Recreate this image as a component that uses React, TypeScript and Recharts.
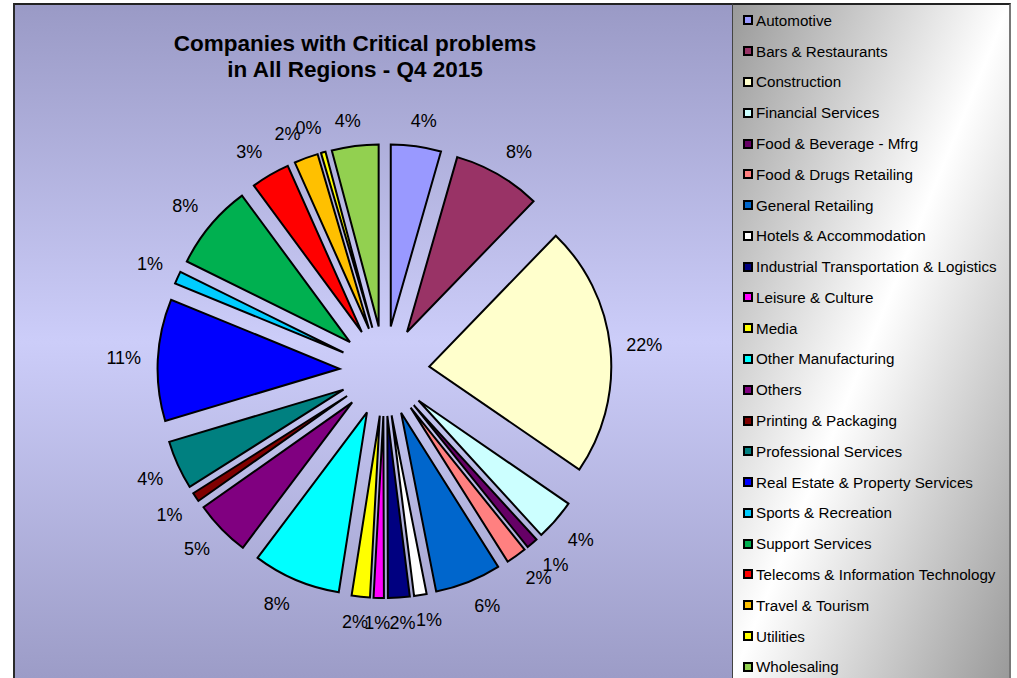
import React from 'react';
import { PieChart, Pie, Cell, Sector, Legend } from 'recharts';

const categories = [
  'Automotive',
  'Bars & Restaurants',
  'Construction',
  'Financial Services',
  'Food & Beverage - Mfrg',
  'Food & Drugs Retailing',
  'General Retailing',
  'Hotels & Accommodation',
  'Industrial Transportation & Logistics',
  'Leisure & Culture',
  'Media',
  'Other Manufacturing',
  'Others',
  'Printing & Packaging',
  'Professional Services',
  'Real Estate & Property Services',
  'Sports & Recreation',
  'Support Services',
  'Telecoms & Information Technology',
  'Travel & Tourism',
  'Utilities',
  'Wholesaling',
];

const values = [
  4.4, 7.7, 22.1, 3.6, 1.0, 1.8, 5.8, 1.1, 1.9, 0.9, 1.6,
  7.7, 4.9, 0.8, 4.3, 10.7, 1.1, 7.5, 3.4, 2.1, 0.4, 4.1,
];

const colors = [
  '#9999FF', '#993366', '#FFFFCC', '#CCFFFF', '#660066', '#FF8080',
  '#0066CC', '#FFFFFF', '#000080', '#FF00FF', '#FFFF00', '#00FFFF',
  '#800080', '#800000', '#008080', '#0000FF', '#00CCFF', '#00B050',
  '#FF0000', '#FFC000', '#FFFF00', '#92D050',
];

const titleLines = ['Companies with Critical problems', 'in All Regions - Q4 2015'];

const data = categories.map((name, i) => ({ name, value: values[i] }));

const FONT = '"Liberation Sans", Arial, Helvetica, sans-serif';
const RAD = Math.PI / 180;
const EXPLODE = 45;
const LABEL_R = 243;

function ExplodedSector(props: any) {
  const { cx, cy, midAngle } = props;
  const dx = EXPLODE * Math.cos(-midAngle * RAD);
  const dy = EXPLODE * Math.sin(-midAngle * RAD);
  return <Sector {...props} cx={cx + dx} cy={cy + dy} />;
}

const clamp = (v: number) => Math.max(-1, Math.min(1, v));

function renderLabel(props: any) {
  const { cx, cy, midAngle, percent, index } = props;
  const ux = Math.cos(-midAngle * RAD);
  const uy = Math.sin(-midAngle * RAD);
  const text = `${Math.round(percent * 100)}%`;
  const hw = text.length >= 3 ? 18 : 13;
  const hh = 9;
  const x = cx + LABEL_R * ux + hw * clamp(3 * ux);
  const y = cy + LABEL_R * uy + hh * clamp(2 * uy);
  return (
    <text
      key={`lbl-${index}`}
      x={x}
      y={y}
      textAnchor="middle"
      dominantBaseline="central"
      fontSize={18}
      fontFamily={FONT}
      fill="#000"
    >
      {text}
    </text>
  );
}

function renderLegend() {
  return (
    <div style={{ paddingTop: 2 }}>
      {categories.map((name, i) => (
        <div
          key={name}
          style={{
            height: 30.79,
            display: 'flex',
            alignItems: 'center',
            fontFamily: FONT,
            fontSize: 15.2,
            color: '#000',
            whiteSpace: 'nowrap',
          }}
        >
          <span
            style={{
              display: 'inline-block',
              width: 6,
              height: 6,
              border: '2px solid #000',
              background: colors[i],
              marginLeft: 11,
              marginRight: 3,
            }}
          />
          <span>{name}</span>
        </div>
      ))}
    </div>
  );
}

export default function App() {
  return (
    <div style={{ position: 'absolute', left: 0, top: 0, width: 1017, height: 678, overflow: 'hidden' }}>
      <div
        style={{
          position: 'absolute',
          left: 13,
          top: 3,
          width: 720,
          height: 675,
          boxSizing: 'border-box',
          borderLeft: '2px solid #2a2a2a',
          borderTop: '2px solid #222',
          background: 'linear-gradient(to bottom, #9a9ac6 0%, #cccdf9 50%, #9c9cc7 100%)',
        }}
      />
      <div
        style={{
          position: 'absolute',
          left: 732,
          top: 3,
          width: 279,
          height: 675,
          boxSizing: 'border-box',
          borderLeft: '1px solid #444',
          borderTop: '2px solid #222',
          borderRight: '2px solid #777',
          background: 'linear-gradient(to bottom right, #9a9a9a 0%, #ffffff 50%, #9a9a9a 100%)',
        }}
      />
      <div
        style={{
          position: 'absolute',
          left: 130,
          top: 31,
          width: 450,
          textAlign: 'center',
          fontFamily: FONT,
          fontWeight: 'bold',
          fontSize: 22.5,
          lineHeight: '26px',
          color: '#000',
        }}
      >
        {titleLines.map((t) => (
          <div key={t}>{t}</div>
        ))}
      </div>
      <div style={{ position: 'absolute', left: 0, top: 0 }}>
        <PieChart width={1017} height={678} margin={{ top: 0, right: 0, bottom: 0, left: 0 }}>
          <Pie
            data={data}
            dataKey="value"
            nameKey="name"
            cx={384.5}
            cy={371}
            innerRadius={0}
            outerRadius={182}
            startAngle={90}
            endAngle={-270}
            stroke="#000"
            strokeWidth={2}
            label={renderLabel}
            labelLine={false}
            shape={ExplodedSector}
            isAnimationActive={false}
          >
            {data.map((d, i) => (
              <Cell key={d.name} fill={colors[i]} stroke="#000" strokeWidth={2} />
            ))}
          </Pie>
          <Legend
            layout="vertical"
            align="right"
            verticalAlign="top"
            content={renderLegend}
            wrapperStyle={{ position: 'absolute', left: 732, top: 3, width: 278, height: 675 }}
          />
        </PieChart>
      </div>
    </div>
  );
}
